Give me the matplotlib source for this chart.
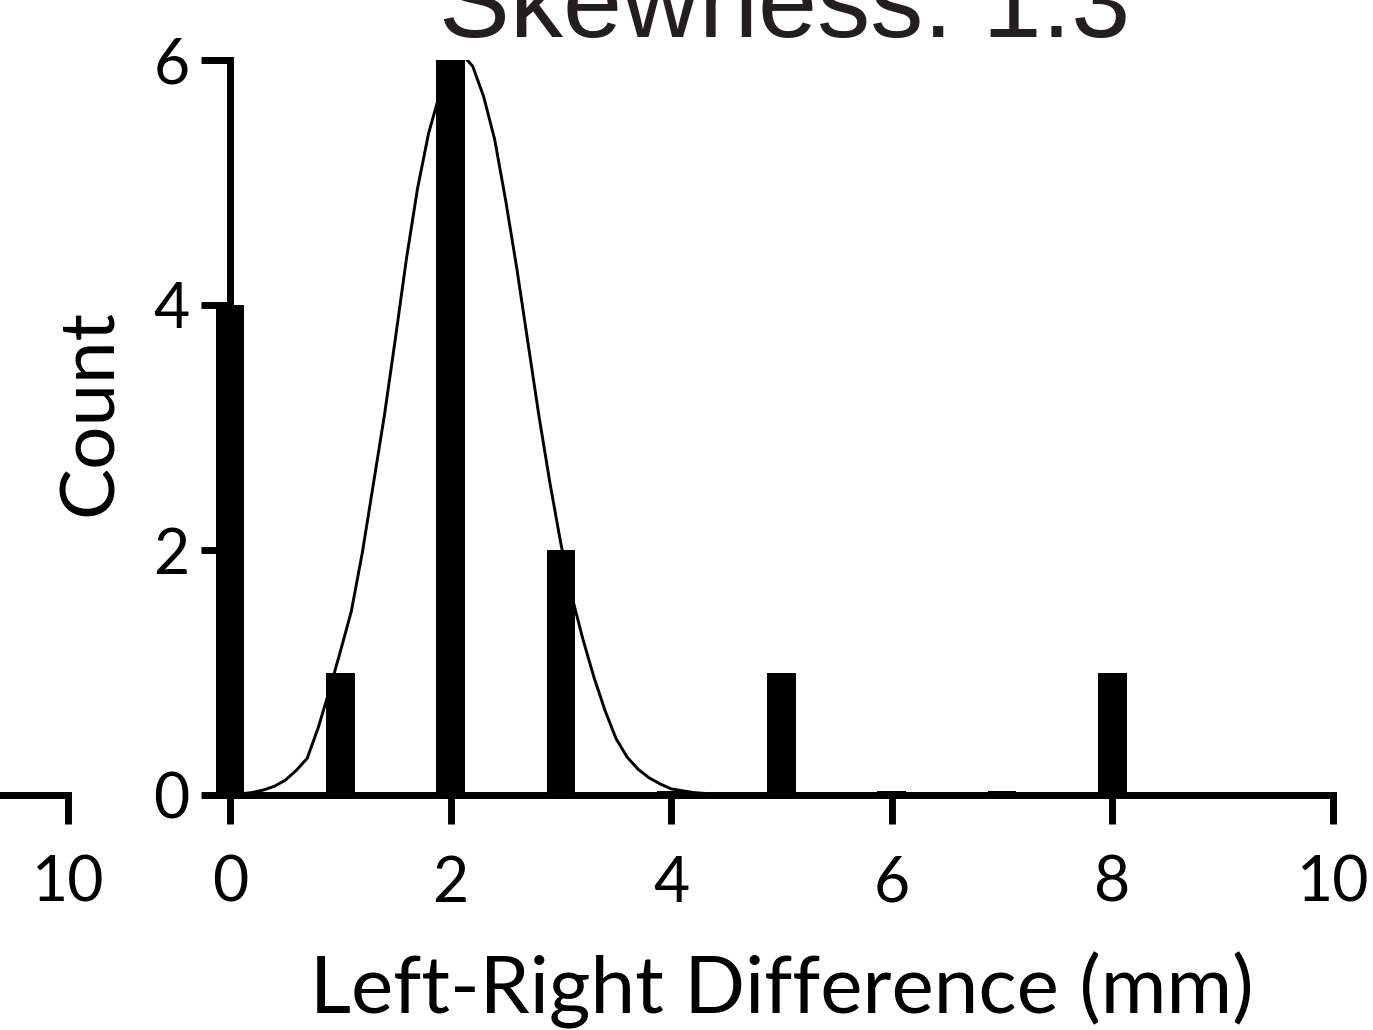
import matplotlib
matplotlib.use("Agg")
import matplotlib.pyplot as plt
import numpy as np

# histogram data (bin centre -> count)
bins = [0, 1, 2, 3, 4, 5, 6, 7, 8]
counts = [4, 1, 6, 2, 0, 1, 0, 0, 1]

# fitted curve
curve_x = [0.0, 0.1, 0.2, 0.3, 0.4, 0.5, 0.6, 0.7, 0.8, 0.9,
           1.0, 1.1, 1.2, 1.3, 1.4, 1.5, 1.6, 1.7, 1.8, 1.9,
           2.0, 2.1, 2.2, 2.3, 2.4, 2.5, 2.6, 2.7, 2.8, 2.9,
           3.0, 3.1, 3.2, 3.3, 3.4, 3.5, 3.6, 3.7, 3.8, 3.9,
           4.0, 4.2, 4.5]
curve_y = [0.0, 0.01, 0.02, 0.04, 0.07, 0.12, 0.20, 0.30, 0.55, 0.85,
           1.17, 1.50, 1.98, 2.54, 3.10, 3.73, 4.38, 4.95, 5.40, 5.72,
           5.95, 6.05, 5.95, 5.70, 5.35, 4.85, 4.30, 3.70, 3.10, 2.55,
           2.05, 1.62, 1.27, 0.96, 0.69, 0.46, 0.31, 0.21, 0.14, 0.09,
           0.05, 0.02, 0.0]

title = "Skewness: 1.3"
xticks = [0, 2, 4, 6, 8, 10]
yticks = [0, 2, 4, 6]

W, H = 1373, 1030
fig = plt.figure(figsize=(W / 100, H / 100), dpi=100, facecolor="white")

lab_font = "Lato"
lw_axis = 5.0
tick_len = 21
tick_fs = 45

ax = fig.add_axes([230 / W, 1 - 795 / H, (1333 - 230) / W, (795 - 60) / H])
ax.set_facecolor("none")

# curve below bars
ax.plot(curve_x, curve_y, color="black", lw=2.1, zorder=2,
        solid_joinstyle="round")

# empty bins shown as thin stubs, as in the original
heights = np.maximum(np.array(counts, dtype=float), 0.035)
ax.bar(bins, heights, width=0.26, color="black", edgecolor="none",
       clip_on=False, zorder=3)

ax.set_xlim(0, 10)
ax.set_ylim(0, 6)
for s in ["top", "right"]:
    ax.spines[s].set_visible(False)
for s in ["left", "bottom"]:
    ax.spines[s].set_linewidth(lw_axis)
    ax.spines[s].set_capstyle("projecting")
    ax.spines[s].set_zorder(5)

ax.set_xticks(xticks)
ax.set_yticks(yticks)
ax.tick_params(axis="both", length=tick_len, width=lw_axis, direction="out",
               labelsize=tick_fs, color="black")
ax.tick_params(axis="x", pad=22)
ax.tick_params(axis="y", pad=8)
for lbl in ax.get_xticklabels() + ax.get_yticklabels():
    lbl.set_fontfamily(lab_font)

ax.set_xlabel("Left-Right Difference (mm)", fontsize=57.5, family=lab_font,
              labelpad=28)
ax.set_ylabel("Count", fontsize=55, family=lab_font)
ax.yaxis.set_label_coords(-0.095, 0.521)

# neighbouring panel's axis end on the far left
ax_left = fig.add_axes([0, 1 - 795 / H, 68 / W, 0.05])
ax_left.set_facecolor("none")
ax_left.set_xlim(9.0, 10)
ax_left.set_ylim(0, 1)
for s in ["top", "right", "left"]:
    ax_left.spines[s].set_visible(False)
ax_left.spines["bottom"].set_linewidth(lw_axis)
ax_left.spines["bottom"].set_capstyle("projecting")
ax_left.set_xticks([10])
ax_left.set_yticks([])
ax_left.tick_params(axis="x", length=tick_len, width=lw_axis, labelsize=tick_fs,
                    pad=22)
for lbl in ax_left.get_xticklabels():
    lbl.set_fontfamily(lab_font)

fig.text(785 / W, 1 - 37 / H, title, fontsize=76.5, family="Liberation Sans",
         ha="center", va="baseline", color="#231f20")

fig.savefig("out.png", dpi=100)
